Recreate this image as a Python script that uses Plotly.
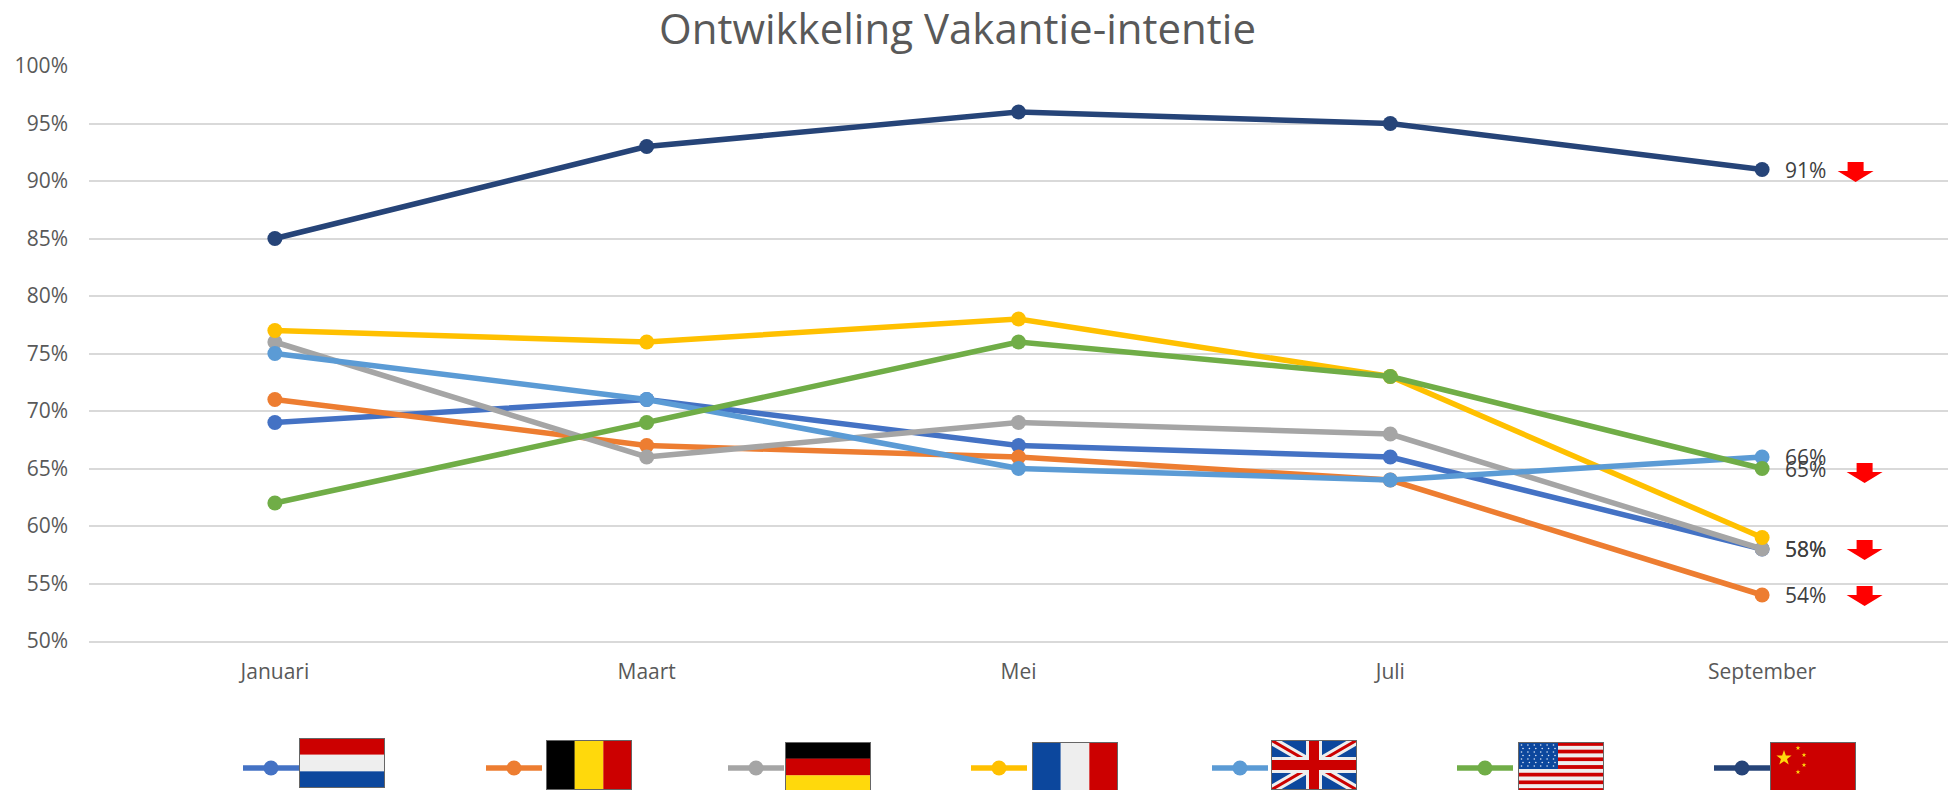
import base64
import math
import plotly.graph_objects as go

# ---- data ----
months = ["Januari", "Maart", "Mei", "Juli", "September"]
nederland = [69, 71, 67, 66, 58]
belgie = [71, 67, 66, 64, 54]
duitsland = [76, 66, 69, 68, 58]
frankrijk = [77, 76, 78, 73, 59]
vk = [75, 71, 65, 64, 66]
vs = [62, 69, 76, 73, 65]
china = [85, 93, 96, 95, 91]
y_ticks = [50, 55, 60, 65, 70, 75, 80, 85, 90, 95, 100]
title_text = "Ontwikkeling Vakantie-intentie"
arrow_values = [91, 65, 58, 54]

# ---- layout helpers ----
W, H = 1949, 790
L, R, T, B = 89, 1948, 66, 641
px_x = lambda p: (p - L) / (R - L)
px_y = lambda p: (B - p) / (B - T)

RED, WHT, BLU, YEL = "#CC0000", "#EEEEEE", "#0C479D", "#FFD90C"


def svg(body):
    s = (f'<svg xmlns="http://www.w3.org/2000/svg" width="344" height="200" viewBox="0 0 86 50">'
         f'{body}<rect x="0.5" y="0.5" width="85" height="49" fill="none" stroke="#666" stroke-width="1"/></svg>')
    return "data:image/svg+xml;base64," + base64.b64encode(s.encode()).decode()


def hstripes(cols):
    h = 50 / len(cols)
    return "".join(f'<rect x="0" y="{i*h}" width="86" height="{h+0.2}" fill="{c}"/>' for i, c in enumerate(cols))


def vstripes(cols):
    w = 86 / len(cols)
    return "".join(f'<rect x="{i*w}" y="0" width="{w+0.2}" height="50" fill="{c}"/>' for i, c in enumerate(cols))


def star(cx, cy, r, col=YEL):
    pts = []
    for k in range(10):
        rr = r if k % 2 == 0 else r * 0.4
        a = -math.pi / 2 + k * math.pi / 5
        pts.append(f"{cx + rr*math.cos(a):.2f},{cy + rr*math.sin(a):.2f}")
    return f'<polygon points="{" ".join(pts)}" fill="{col}"/>'


uk = (f'<rect width="86" height="50" fill="{BLU}"/>'
      f'<path d="M0,0L86,50M86,0L0,50" stroke="{WHT}" stroke-width="9"/>'
      f'<path d="M0,0L86,50M86,0L0,50" stroke="{RED}" stroke-width="3"/>'
      f'<path d="M43,0V50M0,25H86" stroke="{WHT}" stroke-width="16"/>'
      f'<path d="M43,0V50M0,25H86" stroke="{RED}" stroke-width="10"/>')
us = hstripes([RED, WHT] * 6 + [RED]) + f'<rect width="40" height="27" fill="{BLU}"/>'
for r_ in range(7):
    for c_ in range(6):
        us += f'<circle cx="{3.5 + c_*6.4 + (r_ % 2)*1.5:.1f}" cy="{3 + r_*3.5:.1f}" r="0.8" fill="#DDE6F5"/>'
cn = (f'<rect width="86" height="50" fill="{RED}"/>' + star(14, 16, 8) + star(28, 6, 2.5) +
      star(34, 13, 2.5) + star(34, 23, 2.5) + star(28, 30, 2.5))

flags = [
    (svg(hstripes([RED, WHT, BLU])), 299, 738),
    (svg(vstripes(["#000000", YEL, RED])), 546, 740),
    (svg(hstripes(["#000000", RED, YEL])), 785, 742),
    (svg(vstripes([BLU, WHT, RED])), 1032, 742),
    (svg(uk), 1271, 740),
    (svg(us), 1518, 742),
    (svg(cn), 1770, 742),
]

series = [
    ("Nederland", nederland, "#4472C4", True),
    ("België", belgie, "#ED7D31", True),
    ("Duitsland", duitsland, "#A5A5A5", True),
    ("Frankrijk", frankrijk, "#FFC000", False),
    ("Verenigd Koninkrijk", vk, "#5B9BD5", True),
    ("Verenigde Staten", vs, "#70AD47", True),
    ("China", china, "#264478", True),
]
legend_x = [238, 481, 723, 966, 1207, 1452, 1709]

fig = go.Figure()
annotations = []
legends = {}
for i, (name, vals, color, labelled) in enumerate(series):
    key = "legend" if i == 0 else f"legend{i+1}"
    fig.add_trace(go.Scatter(
        x=months, y=vals, name=" ", mode="lines+markers",
        line=dict(color=color, width=5.5),
        marker=dict(color=color, size=15),
        hovertemplate=name + ": %{y}%<extra></extra>",
        legend=key, showlegend=True, cliponaxis=False,
    ))
    legends[key] = dict(
        orientation="h", x=px_x(legend_x[i]), xanchor="left", y=px_y(768), yanchor="middle",
        itemwidth=56, bgcolor="rgba(0,0,0,0)", font=dict(size=10), itemclick=False, itemdoubleclick=False,
    )
    if labelled:
        annotations.append(dict(
            x=months[-1], y=vals[-1], xref="x", yref="y", text=f"{vals[-1]}%", showarrow=False,
            xanchor="left", yanchor="middle", xshift=21,
            font=dict(family="Open Sans", size=21, color="#404040"),
        ))

# title
annotations.append(dict(
    xref="x domain", yref="y domain", x=px_x(957), y=px_y(27), xanchor="center", yanchor="middle",
    text=title_text, showarrow=False,
    font=dict(family="Open Sans", size=42, color="#595959"),
))

# red arrows anchored at their values
offsets = [(93.5, 7.5), (102.5, 5.5), (102.5, 9), (102.5, 9)]
shapes = []
for v, (dx, top) in zip(arrow_values, offsets):
    bot = top - 20
    neck = top - 9
    path = (f"M{dx-8},{top} L{dx+8},{top} L{dx+8},{neck} L{dx+18},{neck} L{dx},{bot} "
            f"L{dx-18},{neck} L{dx-8},{neck} Z")
    shapes.append(dict(type="path", xref="x", yref="y", xsizemode="pixel", ysizemode="pixel",
                       xanchor=4, yanchor=v, path=path, fillcolor="#FF0000", line=dict(width=0)))

images = [dict(source=src, xref="paper", yref="paper", x=px_x(x0), y=px_y(y0),
               sizex=86 / (R - L), sizey=50 / (B - T), xanchor="left", yanchor="top",
               sizing="stretch", layer="above") for src, x0, y0 in flags]

layout = dict(
    width=W, height=H, margin=dict(l=L, r=W - R, t=T, b=H - B, autoexpand=False),
    paper_bgcolor="white", plot_bgcolor="white",
    font=dict(family="Open Sans", size=21, color="#595959"),
    annotations=annotations, shapes=shapes, images=images,
    xaxis=dict(type="category", range=[-0.5, 4.5], showgrid=False, zeroline=False,
               showline=True, linecolor="#D9D9D9", linewidth=1.5, ticks="", ticklabelstandoff=11,
               tickfont=dict(family="Open Sans", size=21, color="#595959")),
    yaxis=dict(range=[50, 100], tickvals=y_ticks, ticktext=[f"{v}%" for v in y_ticks],
               showgrid=True, gridcolor="#D9D9D9", gridwidth=1.5, zeroline=False, showline=False,
               ticks="", ticklabelstandoff=20,
               tickfont=dict(family="Open Sans", size=21, color="#595959")),
    hovermode="closest",
)
layout.update(legends)
fig.update_layout(**layout)

fig.write_html("out.html", config=dict(displayModeBar=False),
               post_script="document.body.style.margin='0';document.body.style.overflow='hidden';")
